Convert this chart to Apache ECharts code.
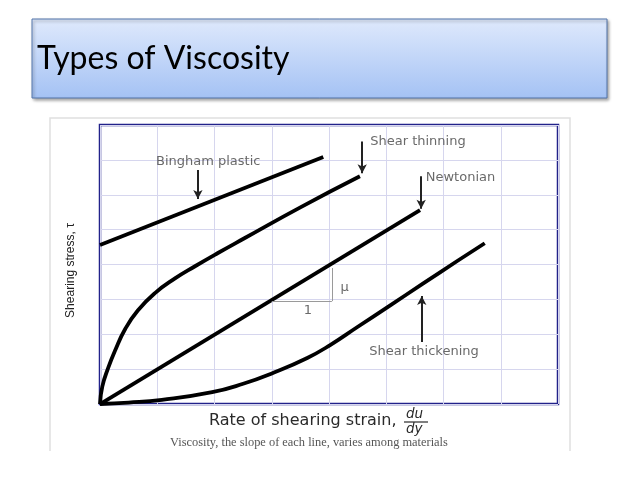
<!DOCTYPE html>
<html>
<head>
<meta charset="utf-8">
<script src="https://cdn.jsdelivr.net/npm/echarts@6/dist/echarts.min.js"></script>
<style>
  html, body { margin: 0; padding: 0; background: #fff; }
  #chart { width: 638px; height: 479px; }
</style>
</head>
<body>
<div id="chart"></div>
<script>
// curves, [rate of strain, shear stress]
var binghamPts = [[0, 4.56], [3.9, 7.08]];
var thinningPts = [[0, 0], [0.04, 0.5], [0.14, 1.02], [0.26, 1.52], [0.44, 2.15], [0.66, 2.68],
    [0.96, 3.18], [1.31, 3.6], [1.66, 3.95], [2.06, 4.33], [2.53, 4.76], [3.5, 5.64], [4.54, 6.53]];
var newtonianPts = [[0, 0], [5.59, 5.56]];
var thickeningPts = [[0, 0], [0.5, 0.04], [1.08, 0.12], [1.96, 0.34], [2.5, 0.58], [3.02, 0.89],
    [3.62, 1.32], [4.02, 1.69], [4.49, 2.2], [5.07, 2.83], [5.64, 3.45], [6.24, 4.1], [6.72, 4.61]];

// annotation labels and arrows (data units)
var labelNames = ['Bingham plastic', 'Shear thinning', 'Newtonian', 'Shear thickening', 'μ', '1'];
var labelPos = [[1.89, 6.94], [4.72, 7.51], [5.69, 6.48], [5.66, 1.49], [4.2, 3.35], [3.63, 2.67]];
var labelAlign = ['center', 'left', 'left', 'center', 'left', 'center'];
var arrows = [
    [[1.71, 6.71], [1.71, 5.88]],
    [[4.58, 7.53], [4.58, 6.62]],
    [[5.61, 6.53], [5.61, 5.6]],
    [[5.62, 1.78], [5.62, 3.1]]
];
var slopeRun = [[3.0, 2.95], [4.05, 2.95]];
var slopeRise = [[4.05, 2.95], [4.05, 3.9]];

var curveStyle = { color: '#000', width: 3.8 };

var markLines = arrows.map(function (a) {
    return [{ coord: a[0] }, { coord: a[1] }];
});
markLines.push([{ coord: slopeRun[0], symbol: 'none', lineStyle: { color: '#9a9a9a', width: 1 } },
    { coord: slopeRun[1], symbol: 'none' }]);
markLines.push([{ coord: slopeRise[0], symbol: 'none', lineStyle: { color: '#9a9a9a', width: 1 } },
    { coord: slopeRise[1], symbol: 'none' }]);

var labelData = labelNames.map(function (n, i) {
    return {
        value: labelPos[i],
        name: n,
        label: { align: labelAlign[i] }
    };
});

var option = {
    animation: false,
    backgroundColor: '#fff',
    grid: {
        left: 100, top: 125, width: 458, height: 279,
        show: true, borderColor: '#22228a', borderWidth: 2.5, backgroundColor: '#fff'
    },
    xAxis: {
        type: 'value', min: 0, max: 8, interval: 1,
        axisLabel: { show: false }, axisTick: { show: false }, axisLine: { show: false },
        splitLine: { lineStyle: { color: '#d6d6ee', width: 1 } }
    },
    yAxis: {
        type: 'value', min: 0, max: 8, interval: 1,
        axisLabel: { show: false }, axisTick: { show: false }, axisLine: { show: false },
        splitLine: { lineStyle: { color: '#d6d6ee', width: 1 } },
        name: 'Shearing stress, τ',
        nameLocation: 'middle', nameGap: 23, nameRotate: 90,
        nameTextStyle: { fontFamily: 'Liberation Sans', fontSize: 12, color: '#222', padding: [0, 0, 0, -12] }
    },
    graphic: [
        // slide title box
        {
            type: 'rect', shape: { x: 32, y: 19, width: 575, height: 79 },
            style: {
                fill: new echarts.graphic.LinearGradient(0, 0, 0, 1, [
                    { offset: 0, color: '#dfe9fc' }, { offset: 1, color: '#a4c2f4' }
                ]),
                stroke: '#5274aa', lineWidth: 1,
                shadowBlur: 3, shadowOffsetX: 1.5, shadowOffsetY: 2, shadowColor: 'rgba(0,0,0,0.35)'
            }
        },
        {
            type: 'text', left: 37, top: 43,
            style: { text: 'Types of Viscosity', font: '32px Lato', fill: '#000' }
        },
        // faint frame of the figure
        {
            type: 'polyline', shape: { points: [[50, 451], [50, 118], [570, 118], [570, 451]] },
            style: { stroke: '#e0e0e0', lineWidth: 1.5, fill: null }, z: -1
        },
        // x axis title with fraction
        {
            type: 'text', left: 209, top: 413,
            style: { text: 'Rate of shearing strain,', font: '16px "DejaVu Sans"', fill: '#2a2a2a' }
        },
        {
            type: 'text', left: 406, top: 407,
            style: { text: 'du', font: 'italic 13.5px "DejaVu Sans"', fill: '#2a2a2a' }
        },
        {
            type: 'line', shape: { x1: 404, y1: 422, x2: 428, y2: 422 },
            style: { stroke: '#2a2a2a', lineWidth: 1.2 }
        },
        {
            type: 'text', left: 406, top: 422,
            style: { text: 'dy', font: 'italic 13.5px "DejaVu Sans"', fill: '#2a2a2a' }
        },
        {
            type: 'text', left: 170, top: 437,
            style: { text: 'Viscosity, the slope of each line, varies among materials', font: '12.4px "Liberation Serif"', fill: '#555' }
        }
    ],
    series: [
        { name: 'Bingham plastic', type: 'line', data: binghamPts, symbol: 'none', lineStyle: curveStyle },
        { name: 'Shear thinning', type: 'line', data: thinningPts, symbol: 'none', smooth: 0.5, lineStyle: curveStyle },
        { name: 'Newtonian', type: 'line', data: newtonianPts, symbol: 'none', lineStyle: curveStyle },
        { name: 'Shear thickening', type: 'line', data: thickeningPts, symbol: 'none', smooth: 0.5, lineStyle: curveStyle },
        {
            name: 'notes', type: 'scatter', data: labelData, symbolSize: 0, silent: true,
            label: {
                show: true, position: 'inside', formatter: '{b}',
                fontFamily: 'DejaVu Sans', fontSize: 13, color: '#444'
            },
            markLine: {
                silent: true, symbol: ['none', 'arrow'], symbolSize: [7, 9],
                label: { show: false },
                lineStyle: { color: '#222', width: 2, type: 'solid' },
                data: markLines
            }
        }
    ]
};

var chart = echarts.init(document.getElementById('chart'));
chart.setOption(option);
</script>
</body>
</html>
